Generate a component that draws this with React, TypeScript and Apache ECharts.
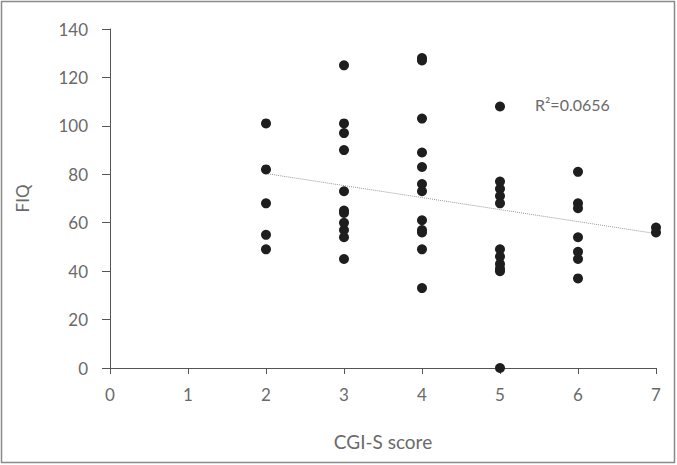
import React, { useEffect, useRef } from "react";
import * as echarts from "echarts";

// FIQ values for each CGI-S score
const fiqScore2 = [101, 82, 68, 55, 49];
const fiqScore3 = [125, 101, 97, 90, 73, 65, 64, 60, 57, 54, 45];
const fiqScore4 = [128, 127, 103, 89, 83, 76, 73, 61, 57, 56, 49, 33];
const fiqScore5 = [108, 77, 74, 71, 68, 49, 46, 43, 41, 40, 0];
const fiqScore6 = [81, 68, 66, 54, 48, 45, 37];
const fiqScore7 = [58, 56];
const scores = [2, 3, 4, 5, 6, 7];
const fiqByScore = [fiqScore2, fiqScore3, fiqScore4, fiqScore5, fiqScore6, fiqScore7];

// Trend line end points
const trendX = [2, 7];
const trendY = [80.3, 55.5];
const rSquaredLabel = "R²=0.0656";

const xAxisName = "CGI-S score";
const yAxisName = "FIQ";

export default function App() {
  const ref = useRef<HTMLDivElement>(null);
  useEffect(() => {
    if (!ref.current) return;
    const chart = echarts.init(ref.current, null, { renderer: "svg" });
    const points: number[][] = [];
    scores.forEach((s, i) => fiqByScore[i].forEach((v) => points.push([s, v])));
    const font = "Lato";
    const textColor = "#6a6a6a";
    chart.setOption({
      animation: false,
      backgroundColor: "#fff",
      textStyle: { fontFamily: font },
      grid: { left: 110, top: 29, right: 21, bottom: 97, containLabel: false },
      xAxis: {
        type: "value",
        min: 0,
        max: 7,
        interval: 1,
        name: xAxisName,
        nameLocation: "middle",
        nameGap: 64,
        nameTextStyle: { color: textColor, fontSize: 19, fontFamily: font },
        axisLine: { show: true, onZero: false, lineStyle: { color: "#555", width: 1 } },
        axisTick: { show: true, length: 6, lineStyle: { color: "#555" } },
        axisLabel: { color: textColor, fontSize: 17, margin: 18, fontFamily: font },
        splitLine: { show: false },
      },
      yAxis: {
        type: "value",
        min: 0,
        max: 140,
        interval: 20,
        name: yAxisName,
        nameLocation: "middle",
        nameGap: 79,
        nameRotate: 90,
        nameTextStyle: { color: textColor, fontSize: 17, fontFamily: font },
        axisLine: { show: true, lineStyle: { color: "#555", width: 1 } },
        axisTick: { show: true, length: 8, lineStyle: { color: "#555" } },
        axisLabel: { color: textColor, fontSize: 17, margin: 22, fontFamily: font },
        splitLine: { show: false },
      },
      series: [
        {
          type: "line",
          data: trendX.map((x, i) => [x, trendY[i]]),
          showSymbol: false,
          symbol: "none",
          lineStyle: { type: "dotted", color: "#999", width: 1 },
          z: 1,
        },
        {
          type: "scatter",
          data: points,
          symbolSize: 10,
          itemStyle: { color: "#1e1e1e", opacity: 1 },
          z: 3,
        },
      ],
      graphic: [
        {
          type: "rect",
          shape: { x: 1.5, y: 1.5, width: 673, height: 461 },
          style: { fill: "none", stroke: "#8a8a8a", lineWidth: 1.5 },
        },
        {
          type: "text",
          x: 535,
          y: 104,
          style: {
            text: rSquaredLabel,
            fill: textColor,
            fontSize: 16,
            fontFamily: font,
            verticalAlign: "middle",
            align: "left",
          },
        },
      ],
    });
    return () => chart.dispose();
  }, []);
  return (
    <div
      ref={ref}
      style={{ position: "absolute", left: 0, top: 0, width: 677, height: 465 }}
    />
  );
}
